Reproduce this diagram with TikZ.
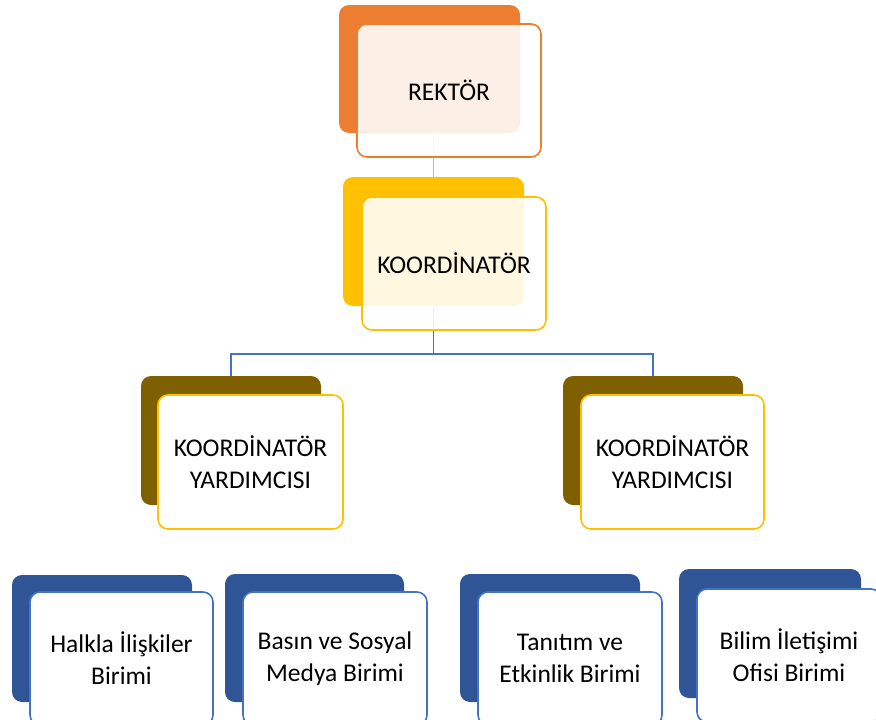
\documentclass[tikz,border=0pt]{standalone}
\usepackage{fontspec}
\setmainfont{Carlito}
\usetikzlibrary{backgrounds}
\definecolor{orng}{HTML}{ED7D31}
\definecolor{yllw}{HTML}{FFC000}
\definecolor{olv}{HTML}{7F6000}
\definecolor{dblue}{HTML}{2F5597}
\definecolor{lblue}{HTML}{4472C4}
\tikzset{
  backbox/.style={rectangle, rounded corners=10pt, minimum width=181pt, minimum height=128pt, inner sep=0pt},
  frontbox/.style={rectangle, rounded corners=10pt, minimum width=184pt, minimum height=133pt, inner sep=0pt, fill=white, line width=1.6pt, align=center, font=\fontsize{25.5}{32}\selectfont, text=black},
  seethru/.style={fill opacity=0.88, text opacity=1},
  conn/.style={line width=1.6pt}
}
\begin{document}
\begin{tikzpicture}[x=1pt,y=-1pt]
\useasboundingbox (0,0) rectangle (876,720);
\coordinate (hb) at (0,354);
% back boxes
\node[backbox, fill=orng] (rb) at (429.5,69) {};
\node[backbox, fill=yllw, minimum height=129pt] (kb) at (433.5,241.5) {};
\node[backbox, fill=olv, minimum width=180pt, minimum height=129pt] (lb) at (231,440.5) {};
\node[backbox, fill=olv, minimum width=180pt, minimum height=129pt] (rtb) at (653,440.5) {};
\node[backbox, fill=dblue, minimum width=180pt, minimum height=127pt] (b1b) at (102,638.5) {};
\node[backbox, fill=dblue, minimum width=179pt] (b2b) at (314.5,638) {};
\node[backbox, fill=dblue, minimum width=180pt] (b3b) at (550,638) {};
\node[backbox, fill=dblue, minimum width=182pt, minimum height=129pt] (b4b) at (770,633.5) {};
% connectors (under the boxes)
\begin{scope}[on background layer]
\draw[conn, yllw] (kb.north) -- (kb.north |- rb.south);
\draw[conn, lblue] (kb.south) -- (kb.south |- hb) -| (lb.north);
\draw[conn, lblue] (kb.south |- hb) -| (rtb.north);
\end{scope}
% front boxes
\node[frontbox, seethru, draw=orng] (rf) at (449,90.5) {REKTÖR};
\node[frontbox, seethru, draw=yllw] (kf) at (454,263.5) {KOORDİNATÖR};
\node[frontbox, draw=yllw, minimum width=185pt, minimum height=134pt] (lf) at (250.5,462) {KOORDİNATÖR\\YARDIMCISI};
\node[frontbox, draw=yllw, minimum width=183pt, minimum height=134pt] (rtf) at (672.5,462) {KOORDİNATÖR\\YARDIMCISI};
\node[frontbox, draw=lblue, minimum width=183pt] (b1f) at (121.5,658.5) {Halkla İlişkiler\\Birimi};
\node[frontbox, draw=lblue] (b2f) at (335,658.5) {Basın ve Sosyal\\Medya Birimi};
\node[frontbox, draw=lblue] (b3f) at (570,658.5) {Tanıtım ve\\Etkinlik Birimi};
\node[frontbox, draw=lblue] (b4f) at (789,655.5) {Bilim İletişimi\\Ofisi Birimi};
\end{tikzpicture}
\end{document}
